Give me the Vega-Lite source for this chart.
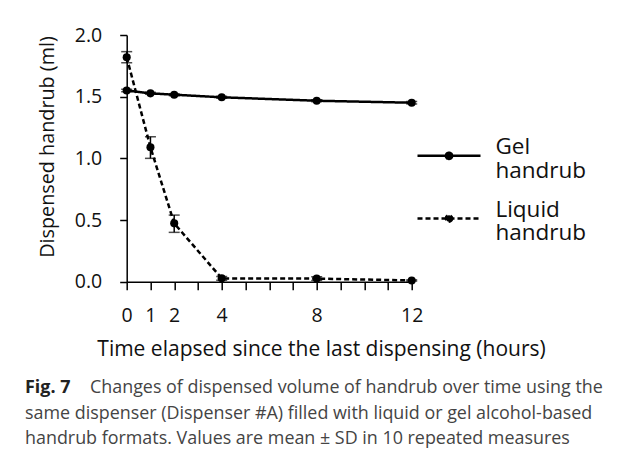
{
  "$schema": "https://vega.github.io/schema/vega-lite/v6.json",
  "autosize": "none",
  "width": 285,
  "height": 246.7,
  "padding": {"left": 126.7, "top": 35, "right": 215.3, "bottom": 175.3},
  "background": "white",
  "config": {
    "view": {"stroke": null},
    "font": "Open Sans",
    "axis": {
      "grid": false,
      "domainColor": "black",
      "domainWidth": 1.5,
      "tickColor": "black",
      "tickWidth": 1.5,
      "labelColor": "#111",
      "titleColor": "#111",
      "labelFont": "Open Sans",
      "titleFont": "Open Sans",
      "labelFontSize": 19.5,
      "titleFontSize": 21,
      "titleFontWeight": "normal",
      "labelOverlap": false
    }
  },
  "title": {
    "text": "Fig. 7",
    "subtitle": [
      "\u2800\u2800\u2800\u2800\u2800Changes of dispensed volume of handrub over time using the",
      "same dispenser (Dispenser #A) filled with liquid or gel alcohol-based",
      "handrub formats. Values are mean ± SD in 10 repeated measures"
    ],
    "orient": "bottom",
    "anchor": "start",
    "frame": "group",
    "dx": -101.7,
    "offset": 20,
    "font": "Open Sans",
    "fontSize": 17.9,
    "fontWeight": "bold",
    "color": "#222",
    "baseline": "top",
    "lineHeight": 25.5,
    "subtitleFont": "Open Sans",
    "subtitleFontSize": 17.9,
    "subtitleColor": "#444",
    "subtitleLineHeight": 25.5,
    "subtitlePadding": -17.9
  },
  "data": {
    "values": [
      {"series": "Gel handrub", "time": 0, "mean": 1.55, "lo": 1.54, "hi": 1.56},
      {"series": "Gel handrub", "time": 1, "mean": 1.527, "lo": 1.52, "hi": 1.535},
      {"series": "Gel handrub", "time": 2, "mean": 1.516, "lo": 1.508, "hi": 1.524},
      {"series": "Gel handrub", "time": 4, "mean": 1.495, "lo": 1.487, "hi": 1.503},
      {"series": "Gel handrub", "time": 8, "mean": 1.467, "lo": 1.459, "hi": 1.475},
      {"series": "Gel handrub", "time": 12, "mean": 1.451, "lo": 1.441, "hi": 1.461},
      {"series": "Liquid handrub", "time": 0, "mean": 1.82, "lo": 1.775, "hi": 1.865},
      {"series": "Liquid handrub", "time": 1, "mean": 1.09, "lo": 1.0, "hi": 1.175},
      {"series": "Liquid handrub", "time": 2, "mean": 0.473, "lo": 0.4, "hi": 0.54},
      {"series": "Liquid handrub", "time": 4, "mean": 0.027, "lo": 0.012, "hi": 0.042},
      {"series": "Liquid handrub", "time": 8, "mean": 0.025, "lo": 0.01, "hi": 0.04},
      {"series": "Liquid handrub", "time": 12, "mean": 0.01, "lo": 0.005, "hi": 0.015}
    ]
  },
  "encoding": {
    "x": {
      "field": "time",
      "type": "quantitative",
      "scale": {"domain": [0, 12], "nice": false, "zero": false},
      "axis": {
        "title": "Time elapsed since the last dispensing (hours)",
        "values": [0, 1, 2, 3, 4, 5, 6, 7, 8, 9, 10, 11, 12],
        "labelExpr": "indexof([0, 1, 2, 4, 8, 12], datum.value) >= 0 ? datum.label : ''",
        "labelOverlap": false,
        "labelFlush": false,
        "labelBound": false,
        "tickSize": 8,
        "labelPadding": 17,
        "titleX": 194.3,
        "titleY": 73.3,
        "titleAlign": "center",
        "titleBaseline": "alphabetic"
      }
    }
  },
  "layer": [
    {
      "mark": {"type": "line", "color": "black", "strokeWidth": 2.5},
      "encoding": {
        "y": {
          "field": "mean",
          "type": "quantitative",
          "title": "Dispensed handrub (ml)",
          "scale": {"domain": [0, 2], "nice": false},
          "axis": {
            "values": [0, 0.5, 1, 1.5, 2],
            "format": ".1f",
            "tickSize": 7,
            "labelPadding": 18,
            "titleFontSize": 19.8,
            "titleX": -73.4,
            "titleY": 111.5,
            "titleAlign": "center",
            "titleBaseline": "alphabetic",
            "titleAngle": -90
          }
        },
        "strokeDash": {
          "field": "series",
          "type": "nominal",
          "scale": {"domain": ["Gel handrub", "Liquid handrub"], "range": [[1, 0], [5, 3]]},
          "legend": {
            "title": null,
            "orient": "none",
            "legendX": 289.3,
            "legendY": 87.8,
            "padding": 0,
            "symbolType": "M-1,0L1,0M0.1,0A0.1,0.1,0,1,1,-0.1,0A0.1,0.1,0,1,1,0.1,0Z",
            "symbolSize": 3969,
            "symbolStrokeWidth": 2.5,
            "symbolStrokeColor": "black",
            "symbolFillColor": "black",
            "labelFont": "Open Sans",
            "labelFontSize": 22.5,
            "labelColor": "#111",
            "labelLimit": 0,
            "labelOffset": 13.4,
            "rowPadding": 2.7,
            "labelExpr": "split(datum.label, ' ')",
            "encode": {
              "symbols": {"update": {"fill": {"value": "black"}, "stroke": {"value": "black"}}},
              "labels": {"update": {"lineHeight": {"value": 23.4}, "dy": {"value": -8.5}}}
            }
          }
        }
      }
    },
    {
      "mark": {"type": "errorbar", "ticks": {"size": 11, "thickness": 1.5, "color": "black"}, "rule": {"strokeWidth": 1.5, "color": "black"}},
      "encoding": {
        "y": {"field": "lo", "type": "quantitative", "title": "Dispensed handrub (ml)"},
        "y2": {"field": "hi"},
        "detail": {"field": "series"}
      }
    },
    {
      "mark": {"type": "point", "filled": true, "color": "black", "size": 65, "opacity": 1},
      "encoding": {
        "y": {"field": "mean", "type": "quantitative", "title": "Dispensed handrub (ml)"}
      }
    }
  ]
}
